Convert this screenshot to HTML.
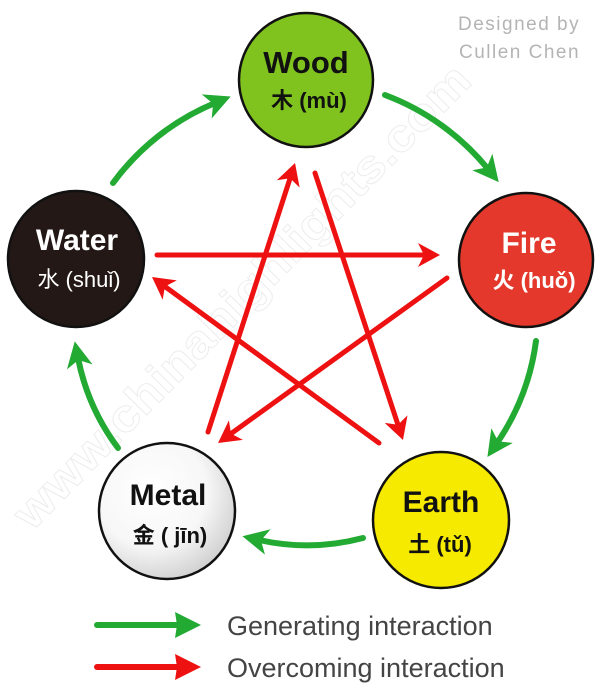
<!DOCTYPE html>
<html>
<head>
<meta charset="utf-8">
<style>
  html,body{margin:0;padding:0;background:#fff;}
  svg{display:block;}
  text{font-family:"Liberation Sans","Noto Sans CJK SC",sans-serif;}
</style>
</head>
<body>
<svg width="600" height="700" viewBox="0 0 600 700" xmlns="http://www.w3.org/2000/svg">
  <defs>
    <marker id="g" markerUnits="userSpaceOnUse" markerWidth="30" markerHeight="30" viewBox="0 0 30 30" refX="9" refY="15" orient="auto">
      <path d="M0,2 L26,15 L0,28 L7,15 Z" fill="#22aa33"/>
    </marker>
    <marker id="r" markerUnits="userSpaceOnUse" markerWidth="30" markerHeight="30" viewBox="0 0 30 30" refX="8" refY="15" orient="auto">
      <path d="M0,3 L22,15 L0,27 L6,15 Z" fill="#ee1111"/>
    </marker>
    <marker id="gl" markerUnits="userSpaceOnUse" markerWidth="30" markerHeight="30" viewBox="0 0 30 30" refX="2" refY="15" orient="auto">
      <path d="M0,2 L26,15 L0,28 L2,15 Z" fill="#22aa33"/>
    </marker>
    <marker id="rl" markerUnits="userSpaceOnUse" markerWidth="30" markerHeight="30" viewBox="0 0 30 30" refX="2" refY="15" orient="auto">
      <path d="M0,2 L26,15 L0,28 L2,15 Z" fill="#ee1111"/>
    </marker>
    <radialGradient id="metal" cx="0.38" cy="0.35" r="0.75">
      <stop offset="0" stop-color="#ffffff"/>
      <stop offset="0.55" stop-color="#f7f7f7"/>
      <stop offset="1" stop-color="#c8c8c8"/>
    </radialGradient>
  </defs>

  <!-- watermark -->
  <text x="0" y="0" transform="translate(32,532) rotate(-45.5)" font-size="46" font-weight="bold" fill="none" stroke="#ececec" stroke-width="0.9" textLength="630" lengthAdjust="spacingAndGlyphs">www.chinahighlights.com</text>

  <!-- designed by -->
  <text x="458" y="30" font-size="19" fill="#b4b4b4" letter-spacing="1.5">Designed by</text>
  <text x="459" y="58" font-size="19" fill="#b4b4b4" letter-spacing="1.5">Cullen Chen</text>

  <!-- green generating arcs -->
  <g fill="none" stroke="#22aa33" stroke-width="6" stroke-linecap="round">
    <path d="M385,95 A243,243 0 0 1 488,169" marker-end="url(#g)"/>
    <path d="M536,341 A235,235 0 0 1 497,443" marker-end="url(#g)"/>
    <path d="M363,538 A220,220 0 0 1 259,540" marker-end="url(#g)"/>
    <path d="M118,448 A221,221 0 0 1 78,358" marker-end="url(#g)"/>
    <path d="M113,183 A240,240 0 0 1 215,103" marker-end="url(#g)"/>
  </g>

  <!-- red overcoming star -->
  <g fill="none" stroke="#ee1111" stroke-width="5" stroke-linecap="round">
    <line x1="315" y1="173" x2="398.6" y2="426.7" marker-end="url(#r)"/>
    <line x1="208" y1="432" x2="290.7" y2="176.3" marker-end="url(#r)"/>
    <line x1="157" y1="255" x2="426" y2="255" marker-end="url(#r)"/>
    <line x1="447" y1="278" x2="229.4" y2="434.8" marker-end="url(#r)"/>
    <line x1="379" y1="443" x2="163.3" y2="285.3" marker-end="url(#r)"/>
  </g>

  <!-- circles -->
  <circle cx="306" cy="80" r="67" fill="#80c31f" stroke="#111" stroke-width="2.5"/>
  <circle cx="526" cy="260" r="67" fill="#e3382b" stroke="#111" stroke-width="2.5"/>
  <circle cx="76" cy="259" r="68" fill="#231816" stroke="#111" stroke-width="2.5"/>
  <circle cx="167" cy="511" r="68" fill="url(#metal)" stroke="#111" stroke-width="2.5"/>
  <circle cx="441" cy="520" r="68" fill="#f6ea00" stroke="#111" stroke-width="2.5"/>

  <!-- labels -->
  <g text-anchor="middle">
    <text x="306" y="73" font-size="31" font-weight="bold" fill="#111">Wood</text>
    <text x="309" y="108" font-size="22" font-weight="bold" fill="#111">木 (mù)</text>

    <text x="77" y="250" font-size="30" font-weight="bold" fill="#fff">Water</text>
    <text x="79" y="287" font-size="22" fill="#fff">水 (shuǐ)</text>

    <text x="529" y="253" font-size="30" font-weight="bold" fill="#fff">Fire</text>
    <text x="534" y="288" font-size="22" font-weight="bold" fill="#fff">火 (huǒ)</text>

    <text x="168" y="505" font-size="30" font-weight="bold" fill="#111">Metal</text>
    <text x="170" y="543" font-size="22" font-weight="bold" fill="#111">金 ( jīn)</text>

    <text x="441" y="512" font-size="30" font-weight="bold" fill="#111">Earth</text>
    <text x="440" y="552" font-size="22" font-weight="bold" fill="#111">土 (tǔ)</text>
  </g>

  <!-- legend -->
  <line x1="97" y1="625" x2="177" y2="625" stroke="#22aa33" stroke-width="6" stroke-linecap="round" marker-end="url(#gl)"/>
  <line x1="97" y1="667" x2="177" y2="667" stroke="#ee1111" stroke-width="6" stroke-linecap="round" marker-end="url(#rl)"/>
  <text x="227" y="635" font-size="27" fill="#444">Generating interaction</text>
  <text x="227" y="677" font-size="27" fill="#444">Overcoming interaction</text>
</svg>
</body>
</html>
